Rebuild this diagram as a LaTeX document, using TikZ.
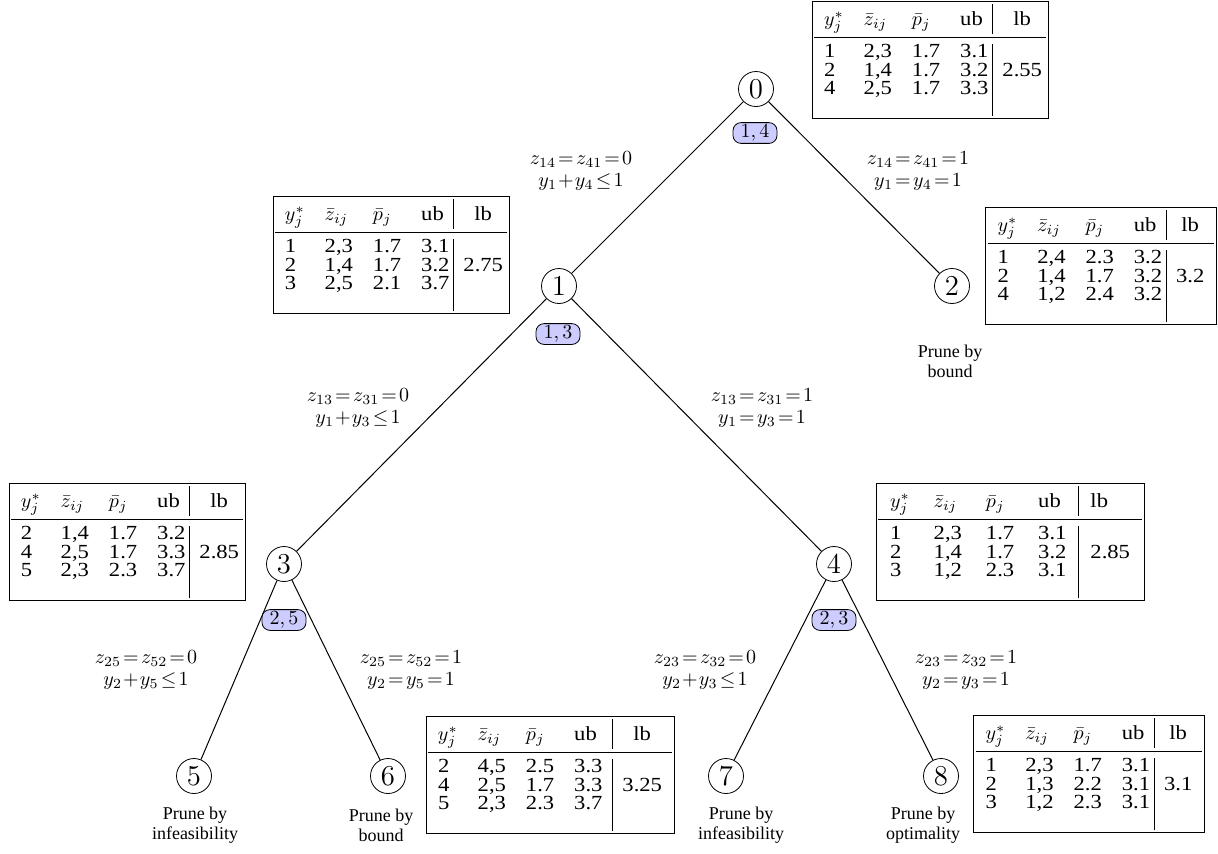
\documentclass[tikz,border=0pt]{standalone}
\usepackage[no-math]{fontspec}
\setmainfont{Liberation Serif}
\newfontfamily\tabfont{Liberation Serif}[FakeStretch=1.13]
\usepackage{booktabs}
\renewcommand\arraystretch{0.76}
\setlength\tabcolsep{5pt}
\newcommand\hdr{\rule{0pt}{11pt}$y_j^*$ & $\bar z_{ij}$ & $\bar p_j$ & ub & lb\\ \midrule}
\tikzset{
  bbnode/.style={circle, draw, minimum size=17.5pt, inner sep=0pt, font=\Large},
  branchvar/.style={draw, rounded corners=4pt, fill=blue!20, minimum width=22pt, minimum height=10pt, inner sep=1pt},
  lbl/.style={align=center, inner sep=0pt, font=\fontsize{10}{11}\selectfont},
  prune/.style={align=center, inner sep=0pt, font=\fontsize{9}{10}\selectfont},
  tbl/.style={draw, inner sep=1pt, font=\fontsize{10}{12}\tabfont},
  edge/.style={draw, line width=0.5pt},
}
\begin{document}
\begin{tikzpicture}[x=0.5pt,y=-0.5pt]
\useasboundingbox (0,0) rectangle (1218,853);
% tree nodes
\node[bbnode] (n0) at (756,89) {$0$};
\node[bbnode] (n1) at (559,286) {$1$};
\node[bbnode] (n2) at (952,286) {$2$};
\node[bbnode] (n3) at (284,564) {$3$};
\node[bbnode] (n4) at (834,564) {$4$};
\node[bbnode] (n5) at (194,776) {$5$};
\node[bbnode] (n6) at (388,776) {$6$};
\node[bbnode] (n7) at (726,776) {$7$};
\node[bbnode] (n8) at (941,776) {$8$};
% edges
\draw[edge] (n0) -- (n1);
\draw[edge] (n0) -- (n2);
\draw[edge] (n1) -- (n3);
\draw[edge] (n1) -- (n4);
\draw[edge] (n3) -- (n5);
\draw[edge] (n3) -- (n6);
\draw[edge] (n4) -- (n7);
\draw[edge] (n4) -- (n8);
% branching variables
\node[branchvar] (b0) at (755,133) {$1,4$};
\node[branchvar] (b1) at (558,334) {$1,3$};
\node[branchvar] (b3) at (284,620) {$2,5$};
\node[branchvar] (b4) at (834,620) {$2,3$};
% edge labels
\node[lbl] (l01) at (581,171) {$z_{14}\!=\!z_{41}\!=\!0$\\$y_1\!+\!y_4\!\leq\!1$};
\node[lbl] (l02) at (918,171) {$z_{14}\!=\!z_{41}\!=\!1$\\$y_1\!=\!y_4\!=\!1$};
\node[lbl] (l13) at (358,408) {$z_{13}\!=\!z_{31}\!=\!0$\\$y_1\!+\!y_3\!\leq\!1$};
\node[lbl] (l14) at (762,408) {$z_{13}\!=\!z_{31}\!=\!1$\\$y_1\!=\!y_3\!=\!1$};
\node[lbl] (l35) at (146,670) {$z_{25}\!=\!z_{52}\!=\!0$\\$y_2\!+\!y_5\!\leq\!1$};
\node[lbl] (l36) at (411,670) {$z_{25}\!=\!z_{52}\!=\!1$\\$y_2\!=\!y_5\!=\!1$};
\node[lbl] (l47) at (705,670) {$z_{23}\!=\!z_{32}\!=\!0$\\$y_2\!+\!y_3\!\leq\!1$};
\node[lbl] (l48) at (966,670) {$z_{23}\!=\!z_{32}\!=\!1$\\$y_2\!=\!y_3\!=\!1$};
% prune labels
\node[prune] (p2) at (950,361) {Prune by\\bound};
\node[prune] (p5) at (195,825) {Prune by\\infeasibility};
\node[prune] (p6) at (381,825) {Prune by\\bound};
\node[prune] (p7) at (741,825) {Prune by\\infeasibility};
\node[prune] (p8) at (923,825) {Prune by\\optimality};
% tables
\node[tbl] (t0) at (930,60) {\begin{tabular}{llll@{\hspace{2pt}}|c@{\hspace{2pt}}}\hdr
1 & 2,3 & 1.7 & 3.1 & \\
2 & 1,4 & 1.7 & 3.2 & 2.55\\
4 & 2,5 & 1.7 & 3.3 & \\[8pt]
\end{tabular}};
\node[tbl] (t1) at (391,255) {\begin{tabular}{llll@{\hspace{2pt}}|c@{\hspace{2pt}}}\hdr
1 & 2,3 & 1.7 & 3.1 & \\
2 & 1,4 & 1.7 & 3.2 & 2.75\\
3 & 2,5 & 2.1 & 3.7 & \\[8pt]
\end{tabular}};
\node[tbl] (t2) at (1101,266) {\begin{tabular}{llll@{\hspace{2pt}}|c}\hdr
1 & 2,4 & 2.3 & 3.2 & \\
2 & 1,4 & 1.7 & 3.2 & 3.2\\
4 & 1,2 & 2.4 & 3.2 & \\[8pt]
\end{tabular}};
\node[tbl] (t3) at (127,542) {\begin{tabular}{llll@{\hspace{2pt}}|c@{\hspace{2pt}}}\hdr
2 & 1,4 & 1.7 & 3.2 & \\
4 & 2,5 & 1.7 & 3.3 & 2.85\\
5 & 2,3 & 2.3 & 3.7 & \\[8pt]
\end{tabular}};
\node[tbl] (t4) at (1010,542) {\setlength\tabcolsep{6pt}\begin{tabular}{llll|l}\hdr
1 & 2,3 & 1.7 & 3.1 & \\
2 & 1,4 & 1.7 & 3.2 & 2.85\\
3 & 1,2 & 2.3 & 3.1 & \\[8pt]
\end{tabular}};
\node[tbl] (t6) at (550,775) {\begin{tabular}{llll|c}\hdr
2 & 4,5 & 2.5 & 3.3 & \\
4 & 2,5 & 1.7 & 3.3 & 3.25\\
5 & 2,3 & 2.3 & 3.7 & \\[8pt]
\end{tabular}};
\node[tbl] (t8) at (1089,774) {\begin{tabular}{llll@{\hspace{2pt}}|c}\hdr
1 & 2,3 & 1.7 & 3.1 & \\
2 & 1,3 & 2.2 & 3.1 & 3.1\\
3 & 1,2 & 2.3 & 3.1 & \\[8pt]
\end{tabular}};
\end{tikzpicture}
\end{document}
